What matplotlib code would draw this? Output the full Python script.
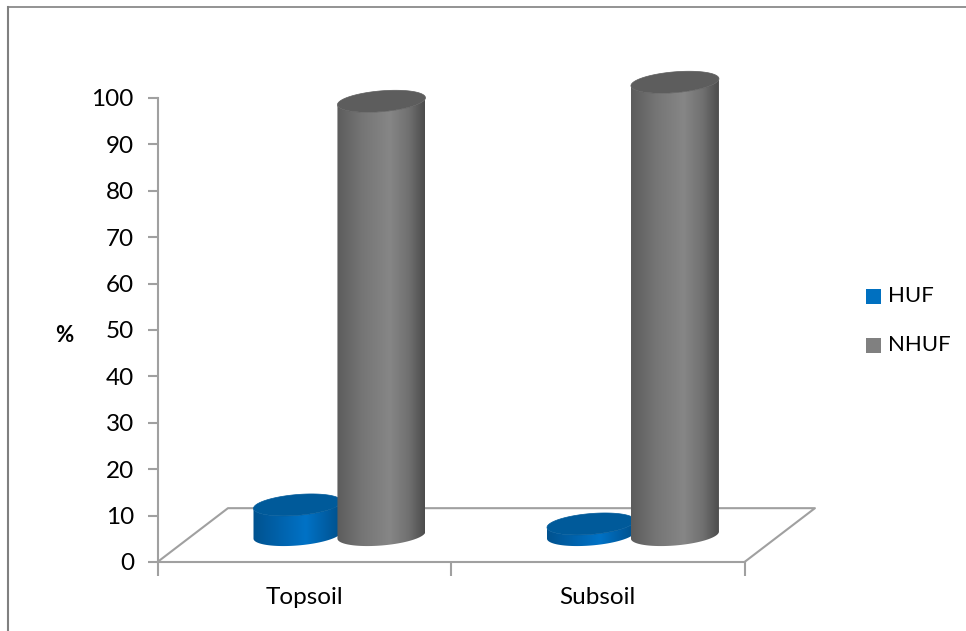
import numpy as np
import matplotlib
matplotlib.use("Agg")
import matplotlib.pyplot as plt
from matplotlib.colors import LinearSegmentedColormap
from matplotlib.patches import Polygon, Rectangle
from matplotlib.lines import Line2D

# Данные
categories = ["Topsoil", "Subsoil"]
huf = [6.5, 2.4]
nhuf = [93.5, 97.6]
y_ticks = list(range(0, 101, 10))

W, H = 966, 631
AX_L, AX_R, AX_T, AX_B = 157.5, 744.5, 98, 562
GRAY = "#a0a0a0"

plt.rcParams['font.family'] = ['Lato', 'DejaVu Sans']

fig = plt.figure(figsize=(W / 100, H / 100), dpi=100)
ax = fig.add_axes([AX_L / W, 1 - AX_B / H, (AX_R - AX_L) / W, (AX_B - AX_T) / H])
ax.set_xlim(0, len(categories))
ax.set_ylim(0, 100)

# Оси
for side in ('top', 'right'):
    ax.spines[side].set_visible(False)
for side in ('left', 'bottom'):
    ax.spines[side].set_color(GRAY)
    ax.spines[side].set_linewidth(1.5)
ax.set_yticks(y_ticks)
ax.set_xticks(range(len(categories) + 1))
ax.set_xticklabels([])
ax.set_xticks([i + 0.5 for i in range(len(categories))], categories, minor=True)
ax.tick_params(axis='y', length=7, width=1.5, color=GRAY, labelsize=17.5, pad=10)
ax.tick_params(axis='x', which='major', length=10, width=1.5, color=GRAY)
ax.tick_params(axis='x', which='minor', length=0, labelsize=17.5, pad=18)
ax.patch.set_alpha(0)

# Пол диаграммы
depth_x, depth_y = 0.24, 11.6
ax.plot([0, depth_x, 2 + depth_x, 2], [0, depth_y, depth_y, 0], color=GRAY, lw=1.5,
        clip_on=False, zorder=1)

x_per_px = 2 / (AX_R - AX_L)
y_per_px = 100 / (AX_B - AX_T)


def ellipse(cx, cy, t):
    """Эллипс основания в координатах данных"""
    x = cx + 44 * x_per_px * np.cos(t)
    y = cy + (3.5 * np.cos(t) + 10.4 * np.sin(t)) * y_per_px
    return x, y


def cylinder(cx, value, stops, top_color, z):
    """Цилиндр со светотенью высотой value"""
    base = depth_y / 2
    # нижняя дуга идет слева направо, верхняя обратно
    xb, yb = ellipse(cx, base, np.linspace(np.pi, 2 * np.pi, 80))
    xt, yt = ellipse(cx, base + value, np.linspace(2 * np.pi, np.pi, 80))
    side = Polygon(np.column_stack([np.r_[xb, xt], np.r_[yb, yt]]), closed=True,
                   transform=ax.transData, facecolor='none', edgecolor='none')
    ax.add_patch(side)
    cmap = LinearSegmentedColormap.from_list("shade", stops)
    grad = np.linspace(0, 1, 256).reshape(1, -1)
    rx = 44 * x_per_px
    im = ax.imshow(grad, cmap=cmap, aspect='auto', zorder=z, interpolation='bilinear',
                   extent=[cx - rx, cx + rx, base - 5, base + value + 5])
    im.set_clip_box(fig.bbox)
    im.set_clip_path(side)
    xe, ye = ellipse(cx, base + value, np.linspace(0, 2 * np.pi, 160))
    ax.add_patch(Polygon(np.column_stack([xe, ye]), closed=True, facecolor=top_color,
                         edgecolor=top_color, lw=0.5, clip_on=False, zorder=z + 0.1))


blue_stops = [(0, "#00528f"), (0.3, "#0062ab"), (0.6, "#0072c6"), (1, "#00508c")]
gray_stops = [(0, "#5c5c5c"), (0.3, "#767676"), (0.6, "#868686"), (0.82, "#707070"), (1, "#4c4c4c")]

# Цилиндры
for i in range(len(categories)):
    group = i + 0.5 + depth_x / 2
    cylinder(group - 0.143, huf[i], blue_stops, "#005a9a", 3)
    cylinder(group + 0.143, nhuf[i], gray_stops, "#5d5d5d", 4)

ax.set_xlim(0, len(categories))
ax.set_ylim(0, 100)

# Подпись оси и легенда
fig.text(64 / W, 1 - 335 / H, "%", fontsize=16, fontweight='bold', ha='center', va='center')
legend_items = [("HUF", "#0070c0", 296), ("NHUF", "#808080", 345)]
for name, color, y in legend_items:
    fig.add_artist(Rectangle((866 / W, 1 - (y + 7.5) / H), 15 / W, 15 / H, transform=fig.transFigure,
                             facecolor=color, edgecolor='none'))
    fig.text(888 / W, 1 - y / H, name, fontsize=16, ha='left', va='center')

# Рамка
frame = "#808080"
fig.add_artist(Line2D([8 / W, 8 / W], [0, 1 - 7 / H], color=frame, lw=1.5))
fig.add_artist(Line2D([8 / W, 1], [1 - 7 / H, 1 - 7 / H], color=frame, lw=1.2))

fig.savefig("out.png", dpi=100)
